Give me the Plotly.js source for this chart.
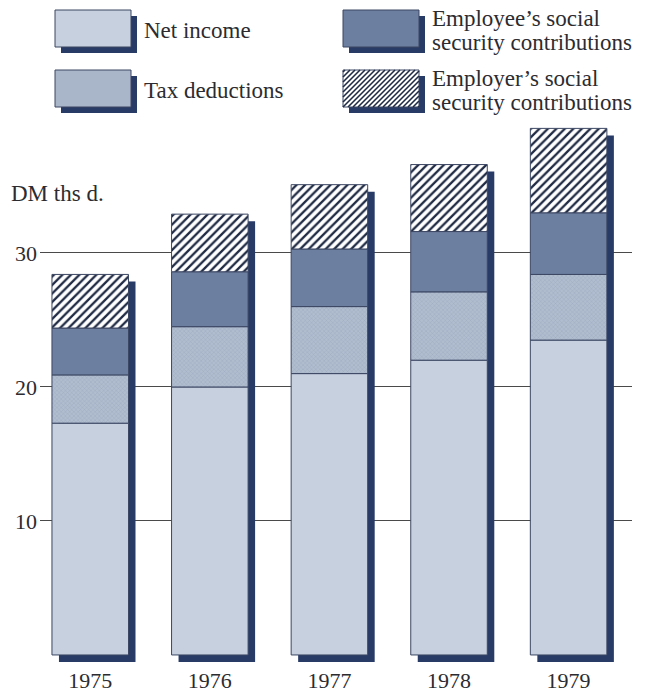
<!DOCTYPE html>
<html>
<head>
<meta charset="utf-8">
<script src="https://cdn.plot.ly/plotly-3.0.1.min.js"></script>
<style>
  html, body { margin: 0; padding: 0; background: #ffffff; }
  #chart { width: 657px; height: 695px; }
</style>
</head>
<body>
<div id="chart"></div>
<script>
// Gross earnings breakdown, DM thousands per year
const years = ['1975', '1976', '1977', '1978', '1979'];
const netIncome = [17.3, 20.0, 21.0, 22.0, 23.5];
const taxDeductions = [3.6, 4.5, 5.0, 5.1, 4.9];
const employeeSocial = [3.5, 4.1, 4.3, 4.5, 4.6];
const employerSocial = [4.0, 4.3, 4.8, 5.0, 6.3];
const yTickVals = [10, 20, 30];
const yTickText = ['10', '20', '30'];

const seriesNames = ['Net income', 'Tax deductions',
  'Employee\u2019s social<br>security contributions',
  'Employer\u2019s social<br>security contributions'];

// Styling
const FONT = 'Liberation Serif, Times New Roman, serif';
const INK = '#2c2c30';
const SHADOW = '#283a66';
const EDGE = '#3c4763';
const HATCH = '#1f2a44';
const BAR_W = 0.64;

const W = 657, H = 695;
const M = { l: 40, r: 25, t: 119, b: 32 };
const Y_RANGE = [-0.6, 40];
const X_RANGE = [-0.42, 4.53];

const styles = [
  { color: '#c6d0de', pattern: { shape: '' } },
  { color: '#a9b6c9', pattern: { shape: 'x', fgcolor: '#95a3b8', bgcolor: '#b0bdcf', size: 3, solidity: 0.2 } },
  { color: '#6d7fa0', pattern: { shape: '' } },
  { color: '#ffffff', pattern: { shape: '/', fgcolor: HATCH, bgcolor: '#ffffff', size: 6, solidity: 0.38 } }
];

const series = [netIncome, taxDeductions, employeeSocial, employerSocial];

// Cumulative bases for the stacked segments
const bases = [];
let running = years.map(() => 0);
series.forEach(s => {
  bases.push(running.slice());
  running = running.map((v, i) => v + s[i]);
});
const totals = running;

// Drop shadow: same bar shifted right and down
const shadowDx = 7 / ((W - M.l - M.r) / (X_RANGE[1] - X_RANGE[0]));
const shadowDy = 7 / ((H - M.t - M.b) / (Y_RANGE[1] - Y_RANGE[0]));

const traces = [{
  type: 'bar',
  x: years.map((_, i) => i),
  y: totals,
  base: years.map(() => -shadowDy),
  width: BAR_W,
  offset: -BAR_W / 2 + shadowDx,
  marker: { color: SHADOW, line: { width: 0 } },
  hoverinfo: 'skip',
  showlegend: false
}];

series.forEach((s, k) => {
  traces.push({
    type: 'bar',
    name: seriesNames[k],
    x: years.map((_, i) => i),
    y: s,
    base: bases[k],
    width: BAR_W,
    marker: {
      color: styles[k].color,
      pattern: styles[k].pattern,
      line: { color: EDGE, width: 1 }
    },
    showlegend: false
  });
});

// Pixel -> paper helpers for the key
const px = v => (v - M.l) / (W - M.l - M.r);
const py = v => (H - M.b - v) / (H - M.t - M.b);

const shapes = [];
const annotations = [];

const keyItems = [
  { k: 0, x0: 55, y0: 10 },
  { k: 1, x0: 55, y0: 70 },
  { k: 2, x0: 343, y0: 10 },
  { k: 3, x0: 343, y0: 70 }
];
const KW = 76, KH = 37, KS = 6;
const TEXT_SIZE = 23;

keyItems.forEach(item => {
  const st = styles[item.k];
  shapes.push({
    type: 'rect', xref: 'paper', yref: 'paper', layer: 'above',
    x0: px(item.x0 + KS), x1: px(item.x0 + KW + KS),
    y0: py(item.y0 + KH + KS), y1: py(item.y0 + KS),
    fillcolor: SHADOW, line: { width: 0 }
  });
  shapes.push({
    type: 'rect', xref: 'paper', yref: 'paper', layer: 'above',
    x0: px(item.x0), x1: px(item.x0 + KW),
    y0: py(item.y0 + KH), y1: py(item.y0),
    fillcolor: st.color, line: { color: EDGE, width: 1 }
  });
  if (item.k === 3) {
    // diagonal hatching for the employer swatch
    const step = 5;
    for (let d = -KH + 2; d < KW; d += step) {
      let xa = item.x0 + d, ya = item.y0 + KH;
      let xb = item.x0 + d + KH, yb = item.y0;
      if (xa < item.x0) { ya -= (item.x0 - xa); xa = item.x0; }
      if (xb > item.x0 + KW) { yb += (xb - item.x0 - KW); xb = item.x0 + KW; }
      shapes.push({
        type: 'line', xref: 'paper', yref: 'paper', layer: 'above',
        x0: px(xa), y0: py(ya), x1: px(xb), y1: py(yb),
        line: { color: HATCH, width: 1.6 }
      });
    }
  }
  // one annotation per text line keeps the leading tight
  const lines = seriesNames[item.k].split('<br>');
  const lineGap = 24;
  const mid = item.y0 + KH / 2 + 2;
  lines.forEach((ln, j) => {
    annotations.push({
      xref: 'paper', yref: 'paper',
      x: px(item.x0 + KW + 11),
      y: py(mid + (j - (lines.length - 1) / 2) * lineGap),
      xanchor: 'left', yanchor: 'middle', align: 'left',
      text: ln, showarrow: false,
      font: { family: FONT, size: TEXT_SIZE, color: INK }
    });
  });
});

annotations.push({
  xref: 'paper', yref: 'paper',
  x: px(9), y: py(194),
  xanchor: 'left', yanchor: 'middle',
  text: 'DM ths d.', showarrow: false,
  font: { family: FONT, size: 23, color: INK }
});

const layout = {
  width: W, height: H,
  margin: M,
  paper_bgcolor: '#ffffff',
  plot_bgcolor: '#ffffff',
  barmode: 'overlay',
  showlegend: false,
  xaxis: {
    range: X_RANGE,
    tickmode: 'array',
    tickvals: years.map((_, i) => i),
    ticktext: years,
    showgrid: false, zeroline: false, showline: false,
    ticks: '', ticklabelstandoff: 2,
    tickfont: { family: FONT, size: 22, color: INK },
    fixedrange: true
  },
  yaxis: {
    range: Y_RANGE,
    tickmode: 'array',
    tickvals: yTickVals,
    ticktext: yTickText,
    showgrid: true, gridcolor: '#4a4a4a', gridwidth: 1,
    zeroline: false, showline: false, ticks: '',
    ticklabelstandoff: 2,
    tickfont: { family: FONT, size: 22, color: INK },
    fixedrange: true
  },
  shapes: shapes,
  annotations: annotations
};

Plotly.newPlot('chart', traces, layout, { displayModeBar: false, staticPlot: true });
</script>
</body>
</html>
